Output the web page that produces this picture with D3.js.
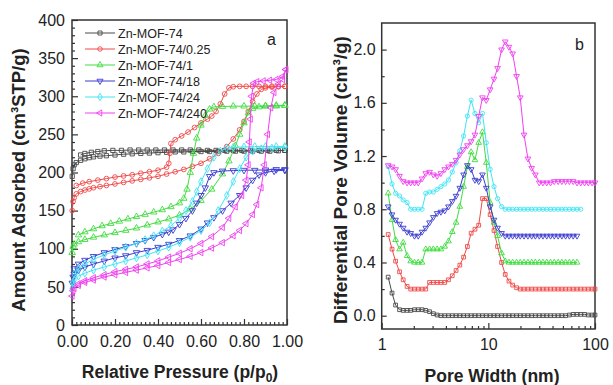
<!DOCTYPE html>
<html><head><meta charset="utf-8">
<script src="https://cdn.jsdelivr.net/npm/d3@7"></script>
<style>body{margin:0;background:#fff}svg{display:block}text{font-family:Arial,"Liberation Sans",sans-serif}</style>
</head><body><svg id="c" width="613" height="385"></svg>
<script>
// ---------- Panel a: N2 isotherms [p/p0, amount] ----------
const seriesNames = ["Zn-MOF-74","Zn-MOF-74/0.25","Zn-MOF-74/1","Zn-MOF-74/18","Zn-MOF-74/24","Zn-MOF-74/240"];
const seriesColors = ["#4a4a4a","#f04a4a","#40dc40","#3c3cd0","#40e4f4","#f040f0"];

const isoAds0 = [[0.001,195],[0.005,205],[0.01,210],[0.02,213],[0.04,216],[0.06,218],[0.08,219.5],[0.1,220.5],[0.13,221.5],[0.16,222],[0.2,223],[0.24,224],[0.28,224.5],[0.32,225],[0.36,225.5],[0.4,226],[0.44,226.5],[0.48,227],[0.52,227],[0.56,227.5],[0.6,227.5],[0.64,227.5],[0.68,227.5],[0.72,228],[0.76,228],[0.8,228],[0.84,228],[0.88,228],[0.92,228],[0.96,228.5],[0.99,229]];
const isoDes0 = [[0.99,229],[0.95,229],[0.91,229],[0.87,229],[0.83,229],[0.79,229],[0.75,229],[0.71,229],[0.67,229],[0.63,229],[0.59,229.5],[0.55,229.5],[0.51,229.5],[0.47,229.5],[0.43,229.5],[0.39,229.5],[0.35,229.5],[0.31,229.5],[0.27,229.5],[0.23,229],[0.19,229],[0.15,228.5],[0.12,227.5],[0.09,226.5],[0.06,225],[0.04,223]];

const isoAds1 = [[0.001,150],[0.005,162],[0.01,167],[0.02,172],[0.04,175],[0.06,177],[0.08,178.5],[0.1,180],[0.13,181.5],[0.16,183],[0.2,185],[0.24,187],[0.28,189],[0.32,191],[0.36,193],[0.4,195],[0.44,198],[0.48,201],[0.52,204],[0.56,208],[0.6,212],[0.64,218],[0.68,225],[0.72,234],[0.75,244],[0.78,256],[0.8,267],[0.82,280],[0.84,293],[0.86,303],[0.88,309],[0.9,311],[0.93,312],[0.96,312.5],[0.99,313]];
const isoDes1 = [[0.99,313],[0.96,313],[0.93,313],[0.9,313],[0.87,313],[0.84,313],[0.81,313],[0.78,313],[0.75,312.5],[0.73,311],[0.71,303],[0.69,290],[0.67,280],[0.65,274],[0.63,270],[0.6,265],[0.57,259],[0.54,253],[0.51,248],[0.48,243],[0.46,238],[0.455,225],[0.45,212],[0.44,207],[0.4,203],[0.36,201],[0.32,199],[0.28,197],[0.24,195.5],[0.2,194],[0.16,192],[0.12,190],[0.08,188],[0.05,186],[0.02,183]];

const isoAds2 = [[0.001,95],[0.005,103],[0.01,106],[0.03,109],[0.06,112],[0.1,115],[0.15,118],[0.2,121],[0.25,124],[0.3,127],[0.35,131],[0.4,135],[0.45,139],[0.5,144],[0.55,152],[0.6,163],[0.65,178],[0.7,198],[0.73,215],[0.76,235],[0.78,250],[0.8,265],[0.82,278],[0.84,284],[0.87,286],[0.9,287],[0.95,287],[0.99,288]];
const isoDes2 = [[0.99,288],[0.95,288],[0.9,287.5],[0.85,287],[0.8,287],[0.75,287],[0.7,286.5],[0.66,286],[0.64,283],[0.62,275],[0.6,262],[0.58,245],[0.565,225],[0.55,200],[0.535,178],[0.52,166],[0.5,160],[0.46,155],[0.42,151],[0.38,148],[0.34,145],[0.3,142],[0.26,139],[0.22,136],[0.18,133],[0.14,130],[0.1,126],[0.06,122],[0.03,118]];

const isoAds3 = [[0.001,55],[0.005,63],[0.01,67],[0.03,72],[0.06,76],[0.1,80],[0.15,84],[0.2,88],[0.25,91],[0.3,95],[0.35,98],[0.4,102],[0.45,106],[0.5,111],[0.55,117],[0.6,126],[0.63,134],[0.66,141],[0.7,150],[0.74,160],[0.78,170],[0.81,180],[0.84,190],[0.87,197],[0.9,200],[0.94,202],[0.99,203]];
const isoDes3 = [[0.99,204],[0.95,204],[0.9,203.5],[0.85,203],[0.8,203],[0.75,202.5],[0.7,202],[0.66,200],[0.64,195],[0.62,180],[0.6,170],[0.58,160],[0.56,150],[0.53,140],[0.5,132],[0.47,125],[0.45,122],[0.42,119],[0.38,115],[0.34,111],[0.3,107],[0.25,103],[0.2,99],[0.15,95],[0.1,90],[0.06,85],[0.03,80],[0.01,74]];

const isoAds4 = [[0.001,48],[0.005,55],[0.01,59],[0.03,64],[0.06,68],[0.1,72],[0.15,76],[0.2,80],[0.25,84],[0.3,88],[0.35,92],[0.4,97],[0.45,102],[0.5,108],[0.55,115],[0.6,124],[0.64,134],[0.68,150],[0.72,170],[0.75,188],[0.78,205],[0.81,220],[0.84,228],[0.88,231],[0.93,232],[0.99,233]];
const isoDes4 = [[0.99,234],[0.95,234],[0.9,234],[0.85,234],[0.8,233.5],[0.75,233],[0.72,232],[0.69,228],[0.66,220],[0.63,205],[0.6,188],[0.58,175],[0.56,162],[0.53,150],[0.5,140],[0.46,130],[0.42,123],[0.38,117],[0.34,112],[0.3,107],[0.25,102],[0.2,97],[0.15,92],[0.1,86],[0.06,80],[0.03,74],[0.01,67]];

const isoAds5 = [[0.001,38],[0.005,45],[0.01,48],[0.03,52],[0.06,56],[0.1,59],[0.15,63],[0.2,66],[0.25,69],[0.3,72],[0.35,75],[0.4,78],[0.45,82],[0.5,86],[0.55,90],[0.6,95],[0.65,101],[0.7,108],[0.75,117],[0.78,124],[0.81,133],[0.84,145],[0.86,158],[0.88,180],[0.895,210],[0.91,250],[0.925,285],[0.94,305],[0.96,316],[0.98,322],[0.995,335]];
const isoDes5 = [[0.995,335],[0.98,326],[0.95,322],[0.92,321],[0.89,320],[0.86,319],[0.845,317],[0.835,300],[0.83,270],[0.825,240],[0.82,210],[0.81,190],[0.79,170],[0.76,155],[0.73,140],[0.7,128],[0.65,116],[0.6,107],[0.55,100],[0.5,94],[0.45,89],[0.4,84],[0.35,80],[0.3,76],[0.25,73],[0.2,70],[0.15,66],[0.1,62],[0.06,58],[0.03,54]];

const isoAds = [isoAds0,isoAds1,isoAds2,isoAds3,isoAds4,isoAds5];
const isoDes = [isoDes0,isoDes1,isoDes2,isoDes3,isoDes4,isoDes5];

const yTicksA = [0,50,100,150,200,250,300,350,400];
const xTicksA = [0,0.2,0.4,0.6,0.8,1.0];

// ---------- Panel b: pore size distribution ----------
const poreWidth = [1.15,1.25,1.35,1.47,1.59,1.73,1.87,2.03,2.2,2.39,2.59,2.81,3.05,3.31,3.59,3.9,4.23,4.59,4.98,5.4,5.86,6.36,6.9,7.49,8.12,8.81,9.56,10.4,11.3,12.2,13.3,14.4,15.6,16.9,18.4,19.9,21.6,23.5,25.5,27.6,30.0,32.5,35.3,38.3,41.5,45.1,48.9,53.0,57.5,62.4,67.8,73.5,79.8,86.5,93.9,100];
const psd0 = [0.29,0.17,0.08,0.045,0.04,0.04,0.04,0.045,0.045,0.045,0.04,0.03,0.015,0.005,0,0,0,0,0,0,0,0,0,0,0,0,0,0,0,0,0,0,0,0,0,0,0,0,0,0,0,0,0,0,0,0,0,0,0.005,0.01,0.01,0.01,0.01,0.005,0.005,0.005];
const psd1 = [0.61,0.5,0.41,0.33,0.27,0.22,0.2,0.2,0.2,0.2,0.2,0.25,0.25,0.25,0.25,0.25,0.27,0.3,0.34,0.38,0.44,0.52,0.62,0.65,0.68,0.88,0.88,0.76,0.64,0.52,0.4,0.31,0.26,0.23,0.21,0.2,0.2,0.2,0.2,0.2,0.2,0.2,0.2,0.2,0.2,0.2,0.2,0.2,0.2,0.2,0.2,0.2,0.2,0.2,0.2,0.2];
const psd2 = [0.92,0.72,0.57,0.5,0.55,0.45,0.41,0.4,0.4,0.4,0.5,0.5,0.5,0.5,0.5,0.52,0.56,0.63,0.7,0.82,0.97,1.12,1.23,1.17,1.3,1.38,1.15,0.85,0.7,0.6,0.47,0.41,0.4,0.4,0.4,0.4,0.4,0.4,0.4,0.4,0.4,0.4,0.4,0.4,0.4,0.4,0.4,0.4,0.4,0.4,0.4,null,null,null,null,null];
const psd3 = [0.82,0.76,0.72,0.69,0.66,0.63,0.62,0.6,0.6,0.63,0.66,0.7,0.74,0.77,0.78,0.79,0.82,0.86,0.9,0.96,1.06,1.13,1.1,1.02,1.01,1.06,0.96,0.82,0.72,0.66,0.62,0.6,0.6,0.6,0.6,0.6,0.6,0.6,0.6,0.6,0.6,0.6,0.6,0.6,0.6,0.6,0.6,0.6,0.6,0.6,0.6,null,null,null,null,null];
const psd4 = [1.12,0.99,0.92,0.9,0.87,0.85,0.8,0.8,0.8,0.8,0.92,0.93,0.93,0.95,0.97,0.99,1.02,1.08,1.15,1.24,1.35,1.5,1.62,1.52,1.45,1.52,1.3,1.1,0.97,0.88,0.82,0.8,0.8,0.8,0.8,0.8,0.8,0.8,0.8,0.8,0.8,0.8,0.8,0.8,0.8,0.8,0.8,0.8,0.8,0.8,0.8,0.8,null,null,null,null];
const psd5 = [1.13,1.12,1.1,1.05,1.01,1.0,1.0,1.0,1.0,1.03,1.07,1.08,1.06,1.05,1.07,1.1,1.12,1.14,1.17,1.21,1.25,1.28,1.31,1.36,1.5,1.64,1.62,1.7,1.78,1.86,2.0,2.06,2.02,1.97,1.8,1.64,1.36,1.18,1.11,1.06,1.0,1.0,1.0,1.0,1.01,1.01,1.01,1.01,1.01,1.01,1.0,1.0,1.0,1.0,1.0,1.0];
const psdSeries = [psd0,psd1,psd2,psd3,psd4,psd5];
const yTicksB = [0,0.4,0.8,1.2,1.6,2.0];
const xTicksB = [1,10,100];

// ---------- drawing ----------
const svg = d3.select("#c");
const axisColor = "#333";

function marker(kind, size){
  const base = {sq:d3.symbolSquare, ci:d3.symbolCircle, di:d3.symbolDiamond, tri:d3.symbolTriangle}[kind];
  return d3.symbol().type(base).size(size)();
}
const markA = [["sq",0],["ci",0],["tri",0],["tri",180],["di",0],["tri",-90]];
const markB = [["sq",0],["sq",0],["tri",0],["tri",180],["ci",0],["tri",180]];

function drawSeries(g, pts, color, mk, size){
  g.append("path").datum(pts).attr("fill","none").attr("stroke",color).attr("stroke-width",1)
    .attr("d", d3.line().x(d=>d[0]).y(d=>d[1]));
  g.selectAll(null).data(pts).enter().append("path")
    .attr("d", marker(mk[0], size))
    .attr("transform", d=>`translate(${d[0]},${d[1]}) rotate(${mk[1]})`)
    .attr("fill","none").attr("stroke",color).attr("stroke-width",0.9);
}

// Panel a scales
const xA = d3.scaleLinear().domain([0,1]).range([72,287]);
const yA = d3.scaleLinear().domain([0,400]).range([325,20]);

const gA = svg.append("g");
const minorYA = d3.range(0,401,10).filter(v=>v%50!==0);
const minorXA = d3.range(0,51,1).map(i=>i/50).filter(v=>Math.round(v*50)%10!==0);

function styleAxis(g){
  g.select(".domain").remove();
  g.selectAll("line").attr("stroke",axisColor).attr("stroke-width",1.2);
  g.selectAll("text").attr("fill","#222").style("font-size","16px").style("font-family","Arial, 'Liberation Sans', sans-serif");
}
gA.append("g").attr("transform","translate(0,325)")
  .call(d3.axisBottom(xA).tickValues(xTicksA).tickFormat(d3.format(".2f")).tickSizeInner(-6).tickSizeOuter(0).tickPadding(11)).call(styleAxis);
gA.append("g").attr("transform","translate(0,325)")
  .call(d3.axisBottom(xA).tickValues(minorXA).tickFormat("").tickSizeInner(-3).tickSizeOuter(0)).call(styleAxis);
gA.append("g").attr("transform","translate(72,0)")
  .call(d3.axisLeft(yA).tickValues(yTicksA).tickSizeInner(-6).tickSizeOuter(0).tickPadding(7)).call(styleAxis);
gA.append("g").attr("transform","translate(72,0)")
  .call(d3.axisLeft(yA).tickValues(minorYA).tickFormat("").tickSizeInner(-3).tickSizeOuter(0)).call(styleAxis);
gA.append("rect").attr("x",72).attr("y",20).attr("width",215).attr("height",305)
  .attr("fill","none").attr("stroke",axisColor).attr("stroke-width",1.5);

const plotA = gA.append("g");
for(let i=0;i<6;i++){
  drawSeries(plotA, isoAds[i].map(d=>[xA(d[0]),yA(d[1])]), seriesColors[i], markA[i], 18);
  drawSeries(plotA, isoDes[i].map(d=>[xA(d[0]),yA(d[1])]), seriesColors[i], markA[i], 18);
}

// legend
const leg = gA.append("g");
seriesNames.forEach((n,i)=>{
  const y = 33 + i*16;
  leg.append("line").attr("x1",85).attr("x2",115).attr("y1",y).attr("y2",y).attr("stroke",seriesColors[i]).attr("stroke-width",1);
  leg.append("path").attr("d",marker(markA[i][0],16)).attr("transform",`translate(100,${y}) rotate(${markA[i][1]})`)
    .attr("fill","none").attr("stroke",seriesColors[i]).attr("stroke-width",0.9);
  leg.append("text").attr("x",118).attr("y",y+4.5).text(n).style("font-size","12.5px").attr("fill","#222");
});
gA.append("text").attr("x",267).attr("y",45).text("a").style("font-size","16px").attr("fill","#222");

// axis titles a
svg.append("text").attr("transform","translate(25,180) rotate(-90)").attr("text-anchor","middle")
  .style("font-size","18.5px").style("font-weight","bold").attr("fill","#222").text("Amount Adsorbed (cm³STP/g)");
const tA = svg.append("text").attr("x",180).attr("y",378).attr("text-anchor","middle")
  .style("font-size","17.5px").style("font-weight","bold").attr("fill","#222");
tA.append("tspan").text("Relative Pressure (p/p");
tA.append("tspan").attr("dy",4).style("font-size","12px").text("0");
tA.append("tspan").attr("dy",-4).text(")");

// Panel b
const xB = d3.scaleLog().domain([1,100]).range([381.7,595]);
const yB = d3.scaleLinear().domain([-0.1,2.2]).range([329,23]);
const gB = svg.append("g");
const minorXB = [2,3,4,5,6,7,8,9,20,30,40,50,60,70,80,90];
const minorYB = [0.2,0.6,1.0,1.4,1.8];
gB.append("g").attr("transform","translate(0,329)")
  .call(d3.axisBottom(xB).tickValues(xTicksB).tickFormat(d3.format("d")).tickSizeInner(-6).tickSizeOuter(0).tickPadding(10)).call(styleAxis);
gB.append("g").attr("transform","translate(0,329)")
  .call(d3.axisBottom(xB).tickValues(minorXB).tickFormat("").tickSizeInner(-3).tickSizeOuter(0)).call(styleAxis);
gB.append("g").attr("transform","translate(381.7,0)")
  .call(d3.axisLeft(yB).tickValues(yTicksB).tickFormat(d3.format(".1f")).tickSizeInner(-5).tickSizeOuter(0).tickPadding(6)).call(styleAxis);
gB.append("g").attr("transform","translate(381.7,0)")
  .call(d3.axisLeft(yB).tickValues(minorYB).tickFormat("").tickSizeInner(-3).tickSizeOuter(0)).call(styleAxis);
gB.append("rect").attr("x",381.7).attr("y",23).attr("width",213.3).attr("height",306)
  .attr("fill","none").attr("stroke",axisColor).attr("stroke-width",1.5);

const plotB = gB.append("g");
psdSeries.forEach((s,i)=>{
  const pts = poreWidth.map((w,j)=>[w,s[j]]).filter(d=>d[1]!==null).map(d=>[xB(d[0]),yB(d[1])]);
  drawSeries(plotB, pts, seriesColors[i], markB[i], 14);
});
gB.append("text").attr("x",575).attr("y",50).text("b").style("font-size","16px").attr("fill","#222");

svg.append("text").attr("transform","translate(347,180) rotate(-90)").attr("text-anchor","middle")
  .style("font-size","19px").style("font-weight","bold").attr("fill","#222").text("Differential Pore Volume (cm³/g)");
svg.append("text").attr("x",492).attr("y",382).attr("text-anchor","middle")
  .style("font-size","17.5px").style("font-weight","bold").attr("fill","#222").text("Pore Width (nm)");
</script></body></html>
